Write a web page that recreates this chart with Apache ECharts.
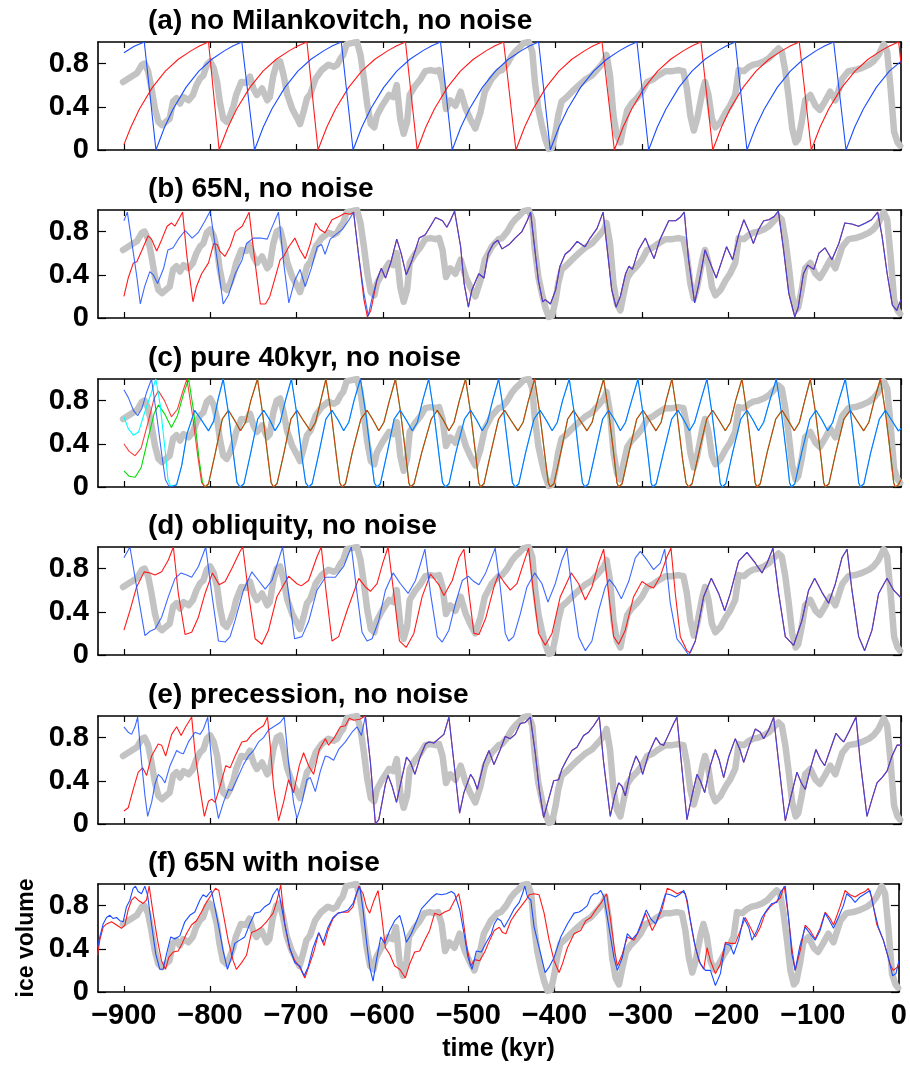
<!DOCTYPE html>
<html><head><meta charset="utf-8">
<script src="https://cdn.jsdelivr.net/npm/echarts@6/dist/echarts.min.js"></script>
<style>html,body{margin:0;padding:0;background:#fff}#c{width:910px;height:1068px}</style>
</head><body><div id="c"></div>
<script>
const xTicks = [-900,-800,-700,-600,-500,-400,-300,-200,-100,0];
const yTicks = [0,0.4,0.8];
const titles = ['(a) no Milankovitch, no noise','(b) 65N, no noise','(c) pure 40kyr, no noise','(d) obliquity, no noise','(e) precession, no noise','(f) 65N with noise'];

const grey = [[-901,0.63],[-897,0.65],[-891,0.68],[-885,0.71],[-879,0.79],[-876,0.8],[-872,0.73],[-868,0.57],[-864,0.38],[-860,0.26],[-856,0.23],[-850,0.27],[-847,0.29],[-843,0.45],[-839,0.48],[-835,0.43],[-831,0.49],[-825,0.46],[-820,0.51],[-816,0.6],[-812,0.66],[-808,0.69],[-804,0.79],[-800,0.82],[-796,0.76],[-792,0.63],[-789,0.45],[-785,0.29],[-781,0.26],[-777,0.32],[-773,0.41],[-770,0.51],[-764,0.63],[-758,0.62],[-754,0.68],[-750,0.57],[-746,0.51],[-740,0.57],[-734,0.46],[-731,0.49],[-727,0.69],[-723,0.8],[-719,0.82],[-715,0.69],[-711,0.52],[-705,0.38],[-699,0.29],[-696,0.24],[-692,0.35],[-688,0.48],[-684,0.52],[-678,0.66],[-671,0.74],[-663,0.79],[-657,0.77],[-653,0.79],[-649,0.85],[-646,0.88],[-642,0.98],[-636,0.99],[-630,1],[-626,0.88],[-622,0.66],[-618,0.41],[-614,0.24],[-610,0.21],[-607,0.32],[-601,0.41],[-593,0.51],[-588,0.49],[-584,0.6],[-580,0.29],[-576,0.15],[-572,0.26],[-569,0.51],[-563,0.59],[-557,0.65],[-551,0.73],[-545,0.74],[-539,0.73],[-535,0.74],[-531,0.63],[-527,0.38],[-522,0.46],[-516,0.41],[-510,0.54],[-504,0.38],[-499,0.29],[-493,0.2],[-487,0.35],[-482,0.54],[-474,0.66],[-466,0.73],[-462,0.74],[-456,0.8],[-451,0.87],[-447,0.91],[-443,0.94],[-437,0.99],[-431,1],[-427,0.91],[-424,0.63],[-420,0.38],[-416,0.23],[-412,0.1],[-408,0.01],[-404,0.02],[-400,0.17],[-397,0.32],[-393,0.45],[-387,0.49],[-381,0.54],[-373,0.6],[-366,0.65],[-358,0.69],[-350,0.76],[-344,0.82],[-341,0.88],[-337,0.69],[-333,0.32],[-329,0.13],[-325,0.07],[-321,0.23],[-317,0.37],[-312,0.43],[-306,0.48],[-300,0.54],[-294,0.63],[-288,0.65],[-281,0.69],[-273,0.73],[-265,0.73],[-258,0.74],[-252,0.73],[-248,0.57],[-244,0.32],[-240,0.18],[-236,0.29],[-230,0.54],[-227,0.63],[-223,0.51],[-219,0.29],[-215,0.21],[-209,0.26],[-203,0.35],[-198,0.41],[-192,0.51],[-188,0.74],[-182,0.73],[-176,0.77],[-171,0.79],[-165,0.8],[-159,0.82],[-153,0.85],[-147,0.9],[-142,0.94],[-138,0.91],[-134,0.73],[-130,0.48],[-126,0.2],[-122,0.07],[-119,0.1],[-115,0.26],[-111,0.46],[-105,0.51],[-99,0.41],[-94,0.37],[-88,0.45],[-82,0.54],[-76,0.46],[-68,0.66],[-61,0.73],[-53,0.74],[-45,0.76],[-37,0.79],[-32,0.82],[-26,0.88],[-20,0.98],[-16,0.91],[-12,0.57],[-8,0.17],[-4,0.07],[-1,0.04]];

// (a)
const aRed = [[-900,0.05],[-892,0.21],[-882,0.38],[-867,0.58],[-852,0.73],[-837,0.84],[-822,0.92],[-812,0.965],[-802,1],
[-789.7,0],[-779.5,0.21],[-769.4,0.38],[-754.1,0.58],[-738.9,0.73],[-723.6,0.84],[-708.3,0.92],[-698.2,0.965],[-688,1],
[-675.2,0],[-665.1,0.21],[-654.9,0.38],[-639.7,0.58],[-624.6,0.73],[-609.4,0.84],[-594.2,0.92],[-584,0.965],[-573.9,1],
[-560.4,0],[-550.4,0.21],[-540.4,0.38],[-525.3,0.58],[-510.3,0.73],[-495.3,0.84],[-480.2,0.92],[-470.2,0.965],[-460.2,1],
[-446,0],[-436,0.21],[-426.1,0.38],[-411.1,0.58],[-396.2,0.73],[-381.2,0.84],[-366.2,0.92],[-356.3,0.965],[-346.3,1],
[-332,0],[-322,0.21],[-311.9,0.38],[-296.9,0.58],[-281.9,0.73],[-266.8,0.84],[-251.8,0.92],[-241.7,0.965],[-231.7,1],
[-218,0],[-208,0.21],[-198,0.38],[-182.9,0.58],[-167.9,0.73],[-152.9,0.84],[-137.8,0.92],[-127.8,0.965],[-117.8,1],
[-103.9,0],[-93.8,0.21],[-83.7,0.38],[-68.5,0.58],[-53.3,0.73],[-38.1,0.84],[-22.9,0.92],[-12.8,0.965],[-2.7,1],[0,0.8]];
const aBlue = [[-900,0.9],[-888,0.96],[-876.4,1],
[-862.9,0],[-852.9,0.21],[-843,0.38],[-828.1,0.58],[-813.2,0.73],[-798.2,0.84],[-783.3,0.92],[-773.3,0.965],[-763.4,1],
[-748.7,0],[-738.7,0.21],[-728.6,0.38],[-713.5,0.58],[-698.5,0.73],[-683.4,0.84],[-668.3,0.92],[-658.3,0.965],[-648.2,1],
[-634.6,0],[-624.5,0.21],[-614.3,0.38],[-599.1,0.58],[-584,0.73],[-568.8,0.84],[-553.6,0.92],[-543.4,0.965],[-533.3,1],
[-519.8,0],[-509.8,0.21],[-499.8,0.38],[-484.8,0.58],[-469.8,0.73],[-454.7,0.84],[-439.7,0.92],[-429.7,0.965],[-419.7,1],
[-406.2,0],[-396.2,0.21],[-386.1,0.38],[-371.1,0.58],[-356,0.73],[-340.9,0.84],[-325.9,0.92],[-315.8,0.965],[-305.8,1],
[-292.3,0],[-282.3,0.21],[-272.2,0.38],[-257.2,0.58],[-242.1,0.73],[-227,0.84],[-212,0.92],[-201.9,0.965],[-191.9,1],
[-178.4,0],[-168.4,0.21],[-158.3,0.38],[-143.3,0.58],[-128.2,0.73],[-113.1,0.84],[-98.1,0.92],[-88,0.965],[-78,1],
[-63.7,0],[-53.7,0.21],[-43.6,0.38],[-28.6,0.58],[-13.5,0.73],[0,0.82]];

// (b)
const bRedEarly = [[-900,0.2],[-895,0.37],[-889,0.51],[-885,0.52],[-879,0.63],[-872,0.76],[-868,0.73],[-862,0.62],[-856,0.73],[-850,0.85],[-845,0.88],[-841,0.85],[-832,0.98],[-827,0.57],[-820,0.15],[-816,0.29],[-810,0.41],[-802,0.51],[-796,0.69],[-792,0.68],[-789,0.62],[-783,0.57],[-777,0.66],[-771,0.8],[-763,0.85],[-755,0.98],[-749,0.57],[-742,0.13],[-736,0.13],[-731,0.2],[-725,0.37],[-719,0.54],[-715,0.57],[-709,0.66],[-702,0.74],[-696,0.63],[-690,0.55],[-684,0.69],[-678,0.88],[-673,0.82],[-667,0.79],[-659,0.91],[-651,0.94],[-644,0.97],[-638,0.96],[-634,0.98],[-628,0.57],[-622,0.17],[-618,0.01],[-614,0.07]];
const bBlueEarly = [[-900,0.9],[-896,0.98],[-889,0.6],[-885,0.38],[-881,0.13],[-876,0.29],[-870,0.43],[-866,0.4],[-861,0.32],[-854,0.46],[-849,0.63],[-843,0.65],[-837,0.73],[-829,0.81],[-821,0.74],[-814,0.79],[-806,0.9],[-800,0.99],[-792,0.54],[-785,0.13],[-779,0.21],[-771,0.41],[-763,0.54],[-758,0.69],[-750,0.74],[-742,0.74],[-734,0.73],[-729,0.83],[-721,0.98],[-715,0.51],[-709,0.14],[-702,0.35],[-696,0.45],[-690,0.29],[-683,0.46],[-676,0.66],[-671,0.68],[-667,0.59],[-661,0.73],[-655,0.77],[-647,0.82],[-640,0.9],[-634,0.98],[-628,0.57],[-622,0.23],[-617,0.02],[-613,0.17]];
const bCommon = [[-607,0.35],[-602,0.46],[-597,0.37],[-591,0.51],[-584,0.73],[-579,0.6],[-573,0.4],[-566,0.54],[-558,0.74],[-551,0.77],[-545,0.85],[-539,0.93],[-531,0.9],[-526,0.84],[-522,0.9],[-517,0.99],[-510,0.66],[-506,0.32],[-501,0.1],[-497,0.26],[-489,0.41],[-483,0.37],[-478,0.6],[-472,0.69],[-467,0.72],[-462,0.64],[-454,0.68],[-447,0.74],[-439,0.8],[-433,0.9],[-429,0.98],[-424,0.63],[-420,0.35],[-415,0.15],[-412,0.17],[-406,0.13],[-400,0.26],[-395,0.48],[-389,0.59],[-383,0.63],[-375,0.71],[-370,0.68],[-366,0.66],[-360,0.74],[-352,0.83],[-345,0.98],[-341,0.69],[-335,0.26],[-330,0.1],[-325,0.2],[-319,0.41],[-315,0.48],[-311,0.45],[-304,0.63],[-296,0.74],[-292,0.66],[-286,0.55],[-279,0.73],[-269,0.9],[-261,0.9],[-256,0.93],[-251,0.98],[-246,0.54],[-239,0.14],[-234,0.32],[-227,0.63],[-221,0.51],[-214,0.37],[-207,0.54],[-202,0.66],[-195,0.54],[-188,0.77],[-182,0.91],[-176,0.8],[-171,0.69],[-165,0.82],[-159,0.9],[-153,0.91],[-147,0.94],[-142,0.99],[-136,0.63],[-130,0.23],[-123,0.01],[-119,0.1],[-113,0.41],[-108,0.49],[-101,0.45],[-95,0.6],[-88,0.65],[-80,0.54],[-72,0.69],[-65,0.88],[-57,0.87],[-49,0.85],[-41,0.88],[-34,0.91],[-27,0.98],[-22,0.76],[-16,0.41],[-10,0.12],[-5,0.07],[0,0.17]];

// (c)
const cBlueStart = [[-900,0.9],[-895,0.83],[-889,0.71],[-884,0.66],[-879,0.73],[-874,0.87],[-868,1],[-862,0.66],[-856,0.29],[-852,0.07],[-848,0.01],[-845,0]];
const cCyanStart = [[-900,0.65],[-895,0.54],[-889,0.48],[-883,0.51],[-876,0.69],[-868,0.88],[-863,1],[-858,0.76],[-852,0.32],[-849,0.07],[-846,0.01],[-845,0]];
const cBlueCommon = [[-839,0.02],[-833,0.2],[-827,0.49],[-818,0.71],[-811,0.63],[-802,0.52],[-796,0.61],[-791,0.81],[-785,1],
[-779,0.69],[-772.5,0.26],[-769,0.04],[-765.4,0],[-761,0.03],[-753,0.32],[-745,0.63],[-738,0.71],[-731,0.62],[-725,0.52],[-719,0.6],[-713,0.8],[-706,1],
[-700,0.69],[-693.5,0.26],[-689.5,0.04],[-686,0],[-682,0.03],[-674,0.32],[-666,0.63],[-659,0.71],[-652,0.62],[-645.5,0.52],[-639.5,0.6],[-633.5,0.8],[-626,1],
[-620,0.69],[-613.5,0.26],[-610,0.04],[-606.8,0],[-603,0.03],[-595,0.32],[-587,0.63],[-580,0.71],[-573,0.62],[-566,0.52],[-560,0.6],[-554,0.8],[-547,1],
[-541,0.69],[-534.5,0.26],[-531,0.04],[-527.5,0],[-523.5,0.03],[-515.5,0.32],[-505.5,0.63],[-498.5,0.71],[-491.5,0.62],[-485,0.52],[-479,0.6],[-473,0.8],[-466,1],
[-460,0.69],[-453.5,0.26],[-450,0.04],[-446.7,0],[-442.7,0.03],[-434.7,0.32],[-425,0.63],[-418,0.71],[-411,0.62],[-404,0.52],[-398,0.6],[-392,0.8],[-384.2,1],
[-378.5,0.69],[-372.5,0.26],[-369,0.04],[-366,0],[-362,0.03],[-354,0.32],[-345.5,0.63],[-338.6,0.71],[-331.5,0.62],[-325,0.52],[-319,0.6],[-312,0.8],[-304.6,1],
[-299,0.69],[-292.5,0.26],[-289.5,0.04],[-287.5,0],[-283.5,0.03],[-275,0.32],[-265.5,0.63],[-258.3,0.71],[-251.5,0.62],[-245,0.52],[-239,0.6],[-232,0.8],[-224.7,1],
[-219,0.69],[-212.5,0.26],[-209.5,0.04],[-207.3,0],[-203,0.03],[-195,0.32],[-185.5,0.63],[-178.4,0.71],[-171.5,0.62],[-165,0.52],[-159,0.6],[-152,0.8],[-144.4,1],
[-138.5,0.69],[-132,0.26],[-129,0.04],[-127,0],[-123,0.03],[-115,0.32],[-105.5,0.63],[-98.5,0.71],[-91.5,0.62],[-85,0.52],[-79,0.6],[-72,0.8],[-64.5,1],
[-58.5,0.69],[-52,0.26],[-49,0.04],[-47,0],[-43,0.03],[-35,0.32],[-25,0.63],[-18,0.71],[-11,0.62],[-3,0.52],[0,0.54]];
const cRedStart = [[-900,0.4],[-894,0.33],[-887,0.29],[-880,0.36],[-872,0.6],[-865,0.82],[-860,0.89],[-853,0.8],[-845,0.65],[-838,0.72],[-832,0.88],[-827,1],[-821,0.69],[-814,0.26],[-810,0.04],[-806,0]];
const cGreenStart = [[-900,0.15],[-894,0.1],[-887,0.09],[-880,0.18],[-872,0.45],[-865,0.68],[-860,0.76],[-853,0.68],[-845,0.55],[-838,0.66],[-831,0.86],[-825,1],[-819,0.69],[-813,0.26],[-809,0.04],[-806,0]];
const cRedCommon = [[-802,0.03],[-794,0.32],[-786,0.63],[-779,0.71],[-772,0.62],[-765,0.52],[-759,0.6],[-753,0.8],[-745.3,1],
[-739.5,0.69],[-733,0.26],[-729.5,0.04],[-726.7,0],[-722.7,0.03],[-714.5,0.32],[-706.5,0.63],[-699.6,0.71],[-692.5,0.62],[-684,0.52],[-678,0.6],[-672,0.8],[-666,1],
[-660,0.69],[-653.5,0.26],[-650,0.04],[-647.4,0],[-643.4,0.03],[-635.5,0.32],[-625.5,0.63],[-618.4,0.71],[-611.5,0.62],[-604.8,0.52],[-598.8,0.6],[-592.5,0.8],[-585.5,1],
[-579.5,0.69],[-573,0.26],[-570,0.04],[-568.1,0],[-564,0.03],[-555,0.32],[-544,0.63],[-537.1,0.71],[-530,0.62],[-523.6,0.52],[-517.6,0.6],[-511.5,0.8],[-504.3,1],
[-498.5,0.69],[-492,0.26],[-489,0.04],[-486.9,0],[-483,0.03],[-475,0.32],[-466,0.63],[-459,0.71],[-452,0.62],[-443.6,0.52],[-437.6,0.6],[-431.5,0.8],[-424.3,1],
[-418.5,0.69],[-412,0.26],[-408.5,0.04],[-406.2,0],[-402,0.03],[-394,0.32],[-386,0.63],[-379.2,0.71],[-372,0.62],[-363.7,0.52],[-357.7,0.6],[-351.5,0.8],[-344.4,1],
[-338.5,0.69],[-332,0.26],[-329,0.04],[-327,0],[-323,0.03],[-315,0.32],[-306,0.63],[-298.8,0.71],[-291.5,0.62],[-283.8,0.52],[-277.8,0.6],[-272,0.8],[-265.3,1],
[-259.5,0.69],[-253,0.26],[-249,0.04],[-246,0],[-242,0.03],[-234,0.32],[-225,0.63],[-218.1,0.71],[-211,0.62],[-203.5,0.52],[-197.5,0.6],[-191.5,0.8],[-184.2,1],
[-178.5,0.69],[-172,0.26],[-169,0.04],[-166.8,0],[-163,0.03],[-155,0.32],[-145,0.63],[-137.8,0.71],[-131,0.62],[-123.6,0.52],[-117.6,0.6],[-111.5,0.8],[-105,1],
[-99,0.69],[-92.5,0.26],[-89.5,0.04],[-87.6,0],[-83.5,0.03],[-75.5,0.32],[-66,0.63],[-58.7,0.71],[-51.5,0.62],[-43.2,0.52],[-37.2,0.6],[-31,0.8],[-23.9,1],
[-18,0.69],[-11.5,0.26],[-8.5,0.04],[-6.6,0],[-3,0.02],[0,0.07]];

// (d)
const dBlueEarly = [[-900,0.9],[-893,1],[-885.3,0.63],[-875.6,0.18],[-869.8,0.22],[-864,0.24],[-856.3,0.35],[-848.5,0.54],[-840.8,0.71],[-833.8,0.76],[-827.3,0.74],[-821.5,0.72],[-813.7,0.82],[-805.2,1],[-798.3,0.57],[-790.5,0.13],[-782.8,0.12],[-777,0.17],[-771.2,0.32],[-761.5,0.6],[-751.8,0.77],[-744.1,0.69],[-736.4,0.61],[-728.6,0.69],[-720.9,0.88],[-716.2,1],[-709.3,0.57],[-702.3,0.15],[-693.8,0.17],[-686.1,0.31],[-676.4,0.6],[-666.7,0.72],[-655.1,0.72],[-645.5,0.82],[-636.6,1],[-630,0.57],[-624.2,0.21],[-618.4,0.13],[-612.6,0.15],[-604.8,0.32],[-597.1,0.6],[-588.2,0.76],[-579.7,0.66],[-570.8,0.57],[-562.3,0.69],[-551.4,0.98],[-544.9,0.57],[-537.1,0.17],[-531.3,0.12],[-523.6,0.23],[-515.9,0.48],[-508.1,0.69],[-501.2,0.73],[-494.6,0.68],[-488.8,0.65],[-481,0.76],[-470,0.99],[-464.1,0.63],[-458.3,0.2],[-454.4,0.13],[-448.6,0.17],[-440.9,0.38],[-433.2,0.63],[-424.3,0.76],[-415.8,0.66],[-408.9,0.49],[-400.4,0.66],[-392.7,0.88],[-386.9,0.99],[-381.1,0.6],[-373.4,0.17],[-365.6,0.04],[-357.9,0.13],[-350.2,0.41],[-342.5,0.63],[-337.8,0.7],[-330.9,0.63],[-323.9,0.52],[-315.4,0.68],[-307.7,0.9],[-301.9,0.96],[-294.2,0.88],[-286.5,0.79],[-278.8,0.85],[-273.7,0.98],[-267.2,0.48],[-259.5,0.15],[-253.7,0.09],[-245.9,0]];
const dRedEarly = [[-900,0.23],[-893,0.41],[-885.3,0.63],[-876.4,0.77],[-869.8,0.76],[-864,0.74],[-856.3,0.77],[-848.5,0.88],[-842.7,1],[-837,0.57],[-829.2,0.19],[-821.5,0.21],[-813.7,0.35],[-806,0.57],[-797.5,0.76],[-789.7,0.65],[-782.8,0.68],[-775,0.8],[-765.4,0.96],[-762.3,1],[-755.7,0.57],[-748,0.15],[-740.2,0.1],[-732.5,0.23],[-722.8,0.54],[-709.3,0.73],[-699.6,0.66],[-694.6,0.64],[-686.1,0.69],[-676.4,0.91],[-671.4,1],[-665.6,0.57],[-659,0.13],[-651.3,0.17],[-641.6,0.41],[-628,0.71],[-620.3,0.63],[-614.5,0.59],[-606.8,0.66],[-600.2,0.85],[-594,1],[-587.4,0.57],[-580.9,0.13],[-573.1,0.07],[-564.2,0.2],[-554.6,0.54],[-544.9,0.75],[-535.2,0.65],[-529.4,0.55],[-519.7,0.69],[-512,0.9],[-506.2,0.98],[-500.4,0.57],[-494.6,0.2],[-488.8,0.19],[-481,0.34],[-471.4,0.63],[-466,0.75],[-460.2,0.68],[-452.5,0.6],[-444.8,0.66],[-437.1,0.85],[-431.3,0.99],[-425.5,0.57],[-419.7,0.2],[-412,0.09],[-404.2,0.2],[-394.6,0.54],[-381.9,0.76],[-373.4,0.66],[-365.6,0.51],[-357.9,0.63],[-350.2,0.85],[-344.4,0.98],[-338.6,0.57],[-332.8,0.17],[-327,0.1],[-319.3,0.23],[-309.7,0.54],[-300,0.68],[-292.3,0.64],[-286.5,0.62],[-278.8,0.73],[-271,0.91],[-266.4,0.99],[-261.4,0.57],[-255.6,0.17],[-247.9,0.04],[-244,0.02]];
const dCommon = [[-238.2,0.13],[-228.6,0.54],[-219.7,0.71],[-211.2,0.57],[-204.2,0.41],[-197.7,0.57],[-188,0.87],[-178.4,0.95],[-168.7,0.85],[-161,0.76],[-155.2,0.85],[-148.3,0.99],[-141.7,0.57],[-134,0.17],[-124.3,0.09],[-114.7,0.32],[-107,0.6],[-100,0.71],[-91.5,0.58],[-83.8,0.48],[-76,0.66],[-68.4,0.9],[-62.5,0.98],[-56.8,0.6],[-49,0.17],[-42.1,0.04],[-33.6,0.23],[-25.9,0.57],[-16.2,0.71],[-8.5,0.6],[0,0.53]];

// (e)
const eRedEarly = [[-900,0.12],[-895,0.15],[-889.2,0.32],[-883.4,0.48],[-878.3,0.52],[-873.7,0.45],[-867.9,0.63],[-860.2,0.74],[-856.3,0.73],[-851.6,0.63],[-844.7,0.83],[-838.9,0.9],[-833.8,0.82],[-828.4,0.9],[-821.5,0.99],[-817.6,0.66],[-811.8,0.32],[-806.8,0.07],[-802.1,0.21],[-798.3,0.23],[-794.4,0.2],[-788.6,0.35],[-782,0.54],[-777,0.52],[-771.2,0.63],[-763.4,0.76],[-757.6,0.77],[-751.8,0.83],[-744.1,0.88],[-738.3,0.91],[-733.7,0.99],[-730.6,0.73],[-726.7,0.35],[-720.9,0.03],[-715.1,0.2],[-709.3,0.41],[-703.5,0.29],[-696.9,0.54],[-691.9,0.66],[-686.1,0.54],[-680.3,0.46],[-673.7,0.69],[-666.7,0.79],[-662.9,0.73],[-657.1,0.79],[-649.3,0.9],[-643.5,0.91],[-638.9,0.98],[-633.8,0.96],[-627,0.97],[-620.3,1]];
const eBlueEarly = [[-900,0.9],[-895,0.85],[-891.1,0.83],[-887.2,0.9],[-884.1,0.99],[-879.5,0.57],[-875.6,0.26],[-872.5,0.07],[-867.9,0.2],[-864,0.37],[-860.2,0.46],[-856.3,0.43],[-852.4,0.38],[-846.6,0.54],[-838.9,0.68],[-835,0.66],[-831.1,0.65],[-825.3,0.76],[-817.6,0.85],[-811.8,0.83],[-807.9,0.88],[-802.9,0.99],[-798.3,0.57],[-794.4,0.23],[-790.5,0.05],[-784.7,0.2],[-778.9,0.32],[-775,0.31],[-769.3,0.41],[-761.5,0.55],[-755.7,0.63],[-749.9,0.68],[-744.1,0.76],[-738.3,0.8],[-732.5,0.87],[-724.8,0.91],[-719,0.94],[-714.3,0.99],[-709.3,0.57],[-703.5,0.2],[-699.6,0.05],[-693.8,0.2],[-688,0.41],[-684.1,0.43],[-678.3,0.3],[-672.5,0.49],[-666.7,0.63],[-662.9,0.62],[-657.1,0.59],[-651.3,0.69],[-643.5,0.76],[-635.8,0.85],[-630,0.9],[-624.9,0.82],[-620.3,1]];
const eCommon = [[-614.5,0.57],[-608.7,0],[-604.8,0.04],[-601,0.2],[-597.1,0.37],[-594,0.45],[-589.4,0.35],[-584.3,0.2],[-578.5,0.41],[-572.7,0.62],[-568.1,0.57],[-563,0.46],[-556.5,0.63],[-550.7,0.74],[-546.8,0.76],[-541,0.75],[-535.2,0.79],[-529.4,0.83],[-523.6,0.99],[-517.8,0.57],[-511.2,0.1],[-506.2,0.29],[-498.5,0.46],[-494.6,0.41],[-490.7,0.32],[-483,0.57],[-477.2,0.68],[-471.4,0.55],[-464.1,0.69],[-458.3,0.81],[-452.5,0.79],[-446.7,0.83],[-440.9,0.93],[-435.1,0.94],[-429.3,0.99],[-423.6,0.66],[-418.9,0.32],[-413.9,0.06],[-408.1,0.23],[-402.3,0.4],[-396.5,0.41],[-392.7,0.51],[-386.9,0.6],[-381.1,0.68],[-375.3,0.71],[-367.6,0.82],[-361.8,0.85],[-356,0.91],[-349.4,0.99],[-344.4,0.57],[-336.7,0.07],[-331.7,0.26],[-327,0.38],[-323.2,0.35],[-319.3,0.26],[-313.5,0.48],[-306.9,0.63],[-303.1,0.57],[-299.2,0.46],[-292.3,0.65],[-283.8,0.8],[-278.8,0.74],[-274.9,0.73],[-269.1,0.83],[-263.3,0.93],[-259.5,0.99],[-254.4,0.57],[-247.9,0.04],[-242.1,0.26],[-236.3,0.46],[-232.4,0.4],[-227.4,0.29],[-220.8,0.54],[-215,0.69],[-210.4,0.59],[-205.4,0.43],[-199.6,0.62],[-191.9,0.79],[-186.1,0.68],[-182.2,0.57],[-176.4,0.71],[-168.7,0.88],[-162.9,0.85],[-159.1,0.79],[-153.3,0.87],[-147.5,0.99],[-141.7,0.57],[-134,0.03],[-128.2,0.23],[-120.5,0.48],[-115.4,0.38],[-110.8,0.32],[-105,0.51],[-98.5,0.69],[-93.4,0.6],[-88.4,0.54],[-81.9,0.69],[-75.3,0.84],[-70.3,0.79],[-66.4,0.76],[-60.6,0.85],[-52.1,0.99],[-47.1,0.57],[-39.4,0.07],[-33.6,0.23],[-27.8,0.38],[-22,0.43],[-16.2,0.49],[-10.4,0.63],[-4.6,0.73],[0,0.73]];

// (f)
const fBlue = [[-930.6,0.41],[-927.9,0.51],[-924,0.63],[-920.1,0.69],[-916.2,0.71],[-912.4,0.68],[-908.5,0.69],[-904.6,0.66],[-900.8,0.65],[-896.9,0.79],[-893,0.85],[-889.2,0.96],[-886.5,0.98],[-883.4,0.93],[-879.5,0.91],[-875.6,0.98],[-872.5,0.9],[-867.9,0.63],[-862.9,0.35],[-858.2,0.21],[-854.4,0.21],[-850.5,0.35],[-845.5,0.51],[-840.8,0.49],[-835,0.52],[-829.2,0.65],[-823.4,0.71],[-817.6,0.74],[-811.8,0.85],[-808,0.9],[-804.1,0.88],[-798.3,0.94],[-794.4,0.79],[-789.7,0.6],[-784.7,0.38],[-779.7,0.21],[-775,0.32],[-771.2,0.45],[-765.4,0.48],[-759.6,0.51],[-753.8,0.63],[-748,0.73],[-742.2,0.74],[-736.4,0.79],[-730.6,0.82],[-726.7,0.9],[-721.7,0.96],[-719,0.88],[-713.2,0.63],[-707.4,0.41],[-701.5,0.27],[-695.7,0.24],[-690.7,0.15],[-686.1,0.23],[-680.3,0.41],[-673.7,0.55],[-668.7,0.46],[-662.9,0.6],[-657.1,0.69],[-651.3,0.73],[-645.5,0.74],[-639.6,0.76],[-633.8,0.82],[-630,0.91],[-626.1,0.98],[-622.2,0.76],[-618.4,0.48],[-614.5,0.23],[-610.6,0.1],[-606.8,0.29],[-601.7,0.51],[-597.1,0.45],[-591.3,0.57],[-585.5,0.66],[-579.7,0.71],[-575.8,0.6],[-571.9,0.46],[-566.2,0.54],[-560.4,0.65],[-554.5,0.77],[-548.7,0.82],[-543,0.87],[-537.1,0.91],[-531.3,0.9],[-525.5,0.91],[-519.7,0.93],[-515.9,0.91],[-510,0.76],[-504.3,0.51],[-500.4,0.32],[-495.7,0.21],[-490.7,0.38],[-484.9,0.37],[-479.1,0.46],[-473.3,0.54],[-469.9,0.63],[-466,0.68],[-462.2,0.66],[-458.3,0.6],[-452.5,0.68],[-446.7,0.77],[-440.9,0.83],[-437.1,0.91],[-434.4,0.98],[-431.3,0.88],[-427.4,0.85],[-423.6,0.6],[-417.8,0.41],[-410.8,0.18],[-406.2,0.23],[-400.4,0.32],[-392.7,0.51],[-385,0.63],[-377.2,0.73],[-371.4,0.74],[-367.6,0.76],[-361.8,0.8],[-357.9,0.88],[-354.1,0.91],[-350.2,0.91],[-346.3,0.94],[-342.5,0.88],[-336.7,0.6],[-330.9,0.32],[-327,0.2],[-321.2,0.32],[-315.4,0.54],[-309.7,0.49],[-303.9,0.54],[-298.1,0.66],[-293.4,0.76],[-288.4,0.68],[-282.6,0.63],[-276.8,0.76],[-271,0.91],[-265.3,0.9],[-259.5,0.88],[-253.7,0.91],[-249.8,0.94],[-245.9,0.85],[-242.1,0.66],[-236.3,0.41],[-230.5,0.26],[-224.7,0.2],[-218.9,0.2],[-213.1,0.06],[-207.3,0.17],[-201.5,0.45],[-195.8,0.43],[-191.9,0.35],[-186.1,0.48],[-180.3,0.69],[-174.5,0.6],[-170.7,0.48],[-164.9,0.57],[-159.1,0.69],[-153.3,0.76],[-147.5,0.82],[-141.7,0.83],[-137.1,0.93],[-132,0.98],[-128.2,0.69],[-124.3,0.35],[-120.5,0.2],[-115.4,0.41],[-108.9,0.6],[-103.1,0.54],[-97.3,0.48],[-91.5,0.57],[-85.7,0.73],[-79.9,0.65],[-76,0.59],[-70.3,0.69],[-64.5,0.8],[-60.6,0.91],[-54.8,0.87],[-50.9,0.83],[-45.2,0.88],[-39.4,0.91],[-33.6,0.94],[-29.7,0.79],[-23.9,0.6],[-18.1,0.48],[-12.4,0.32],[-7.3,0.15],[-3.5,0.17],[0,0.29]];
const fRed = [[-930.6,0.34],[-927.9,0.48],[-924,0.6],[-920.1,0.63],[-914.3,0.65],[-908.5,0.62],[-902.7,0.59],[-898.8,0.62],[-895,0.76],[-891.1,0.85],[-887.2,0.88],[-883.4,0.85],[-877.6,0.82],[-873.7,0.85],[-870.6,0.98],[-866,0.73],[-860.9,0.48],[-856.3,0.29],[-851.6,0.21],[-847.8,0.32],[-842.7,0.37],[-836.9,0.38],[-832.3,0.45],[-827.3,0.54],[-821.5,0.62],[-815.7,0.66],[-809.9,0.74],[-804.1,0.83],[-798.3,0.9],[-793.6,0.96],[-789.7,0.94],[-784.7,0.73],[-778.9,0.48],[-773.1,0.29],[-769.3,0.21],[-763.4,0.27],[-757.6,0.34],[-751.8,0.55],[-746,0.57],[-740.2,0.6],[-734.4,0.65],[-730.6,0.69],[-726.7,0.73],[-722.8,0.83],[-717.8,0.99],[-713.2,0.63],[-707.4,0.4],[-701.5,0.29],[-695.7,0.23],[-689.9,0.13],[-684.1,0.26],[-679.1,0.38],[-673.7,0.55],[-667.5,0.43],[-662.9,0.57],[-657.1,0.68],[-651.3,0.73],[-645.5,0.74],[-639.6,0.74],[-633.8,0.79],[-627.3,0.98],[-622.2,0.91],[-618.4,0.79],[-614.5,0.73],[-609.5,0.85],[-604.8,0.94],[-601,0.73],[-596.3,0.41],[-591.3,0.35],[-585.5,0.24],[-579.7,0.21],[-573.1,0.13],[-568.1,0.26],[-562.3,0.37],[-556.5,0.38],[-550.7,0.48],[-544.9,0.57],[-539.1,0.73],[-533.3,0.71],[-527.5,0.74],[-521.7,0.76],[-515.9,0.85],[-511.2,0.91],[-508.1,0.79],[-502.3,0.45],[-497.3,0.24],[-492.7,0.3],[-486.8,0.29],[-481,0.37],[-475.2,0.48],[-469.9,0.57],[-464.1,0.6],[-460.2,0.55],[-456.4,0.54],[-450.6,0.66],[-444.8,0.73],[-439,0.79],[-433.2,0.85],[-429.3,0.9],[-423.6,0.91],[-417.8,0.9],[-412,0.73],[-406.2,0.48],[-400.4,0.29],[-394.6,0.18],[-390.7,0.26],[-385,0.41],[-377.2,0.54],[-369.5,0.57],[-363.7,0.66],[-357.9,0.69],[-352.1,0.76],[-346.3,0.82],[-339.4,0.91],[-334.7,0.66],[-330,0.38],[-327,0.24],[-321.2,0.35],[-315.4,0.51],[-307.7,0.48],[-300,0.6],[-294.2,0.73],[-286.5,0.57],[-280.7,0.66],[-274.9,0.77],[-269.1,0.96],[-263.3,0.94],[-257.5,0.91],[-251.7,0.93],[-247.9,0.91],[-242.9,0.69],[-238.2,0.48],[-232.4,0.29],[-226.7,0.21],[-222.8,0.41],[-218.9,0.29],[-213.1,0.17],[-207.3,0.26],[-201.5,0.46],[-195.8,0.45],[-190,0.45],[-184.2,0.57],[-178.4,0.69],[-172.6,0.6],[-166.8,0.51],[-161,0.6],[-155.2,0.73],[-149.4,0.79],[-143.6,0.83],[-137.8,0.87],[-133.2,0.98],[-128.2,0.69],[-124.3,0.41],[-120.5,0.2],[-114.7,0.38],[-108.9,0.62],[-103.1,0.57],[-97.3,0.49],[-91.5,0.59],[-85.7,0.74],[-79.9,0.68],[-76,0.62],[-68.4,0.79],[-62.5,0.94],[-56.8,0.9],[-50.9,0.88],[-45.2,0.91],[-39.4,0.93],[-35.5,0.96],[-31.7,0.88],[-25.9,0.63],[-18.1,0.48],[-10.4,0.26],[-6.6,0.2],[-1.9,0.23],[0,0.26]];

const RED = '#ff1a1a', BLUE = '#1a4dff', CYAN = '#00ffff', GREEN = '#00dd00', GREY = '#c3c3c3';
const panels = [
  [{d: aRed, c: RED}, {d: aBlue, c: BLUE}],
  [{d: bRedEarly.concat(bCommon), c: RED}, {d: bBlueEarly.concat(bCommon), c: BLUE, o: 0.85}],
  [{d: cGreenStart.concat(cRedCommon), c: GREEN}, {d: cRedStart.concat(cRedCommon), c: RED, o: 0.84},
   {d: cCyanStart.concat(cBlueCommon), c: CYAN}, {d: cBlueStart.concat(cBlueCommon), c: BLUE, o: 0.82}],
  [{d: dRedEarly.concat(dCommon), c: RED}, {d: dBlueEarly.concat(dCommon), c: BLUE, o: 0.85}],
  [{d: eRedEarly.concat(eCommon), c: RED}, {d: eBlueEarly.concat(eCommon), c: BLUE, o: 0.85}],
  [{d: fRed, c: RED}, {d: fBlue, c: BLUE}]
];

const FONT = 'Liberation Sans';
const tops = [42, 210, 379, 547, 716, 884];
const H = 108, LEFT = 98, W = 803;
const grid = [], xAxis = [], yAxis = [], series = [], title = [];
const axLine = {show: true, onZero: false, lineStyle: {color: '#000', width: 1.6}};
const fmtX = v => v < 0 ? '\u2212' + (-v) : String(v);
tops.forEach((top, i) => {
  grid.push({left: LEFT, top: top, width: W, height: H, containLabel: false});
  title.push({text: titles[i], left: 148, top: top - 35, padding: 0,
    textStyle: {fontFamily: FONT, fontWeight: 'bold', fontSize: 28, color: '#000'}});
  const last = i === 5;
  const xBase = {type: 'value', gridIndex: i, min: -930, max: 0, axisLine: axLine, splitLine: {show: false},
    axisTick: {show: true, inside: true, length: 6, customValues: xTicks, lineStyle: {color: '#000', width: 1.2}}};
  xAxis.push(Object.assign({}, xBase, {position: 'bottom',
    axisLabel: {show: last, customValues: xTicks, formatter: fmtX, fontFamily: FONT, fontWeight: 'bold', fontSize: 29, color: '#000', margin: 9},
    name: last ? 'time (kyr)' : '', nameLocation: 'middle', nameGap: 45,
    nameTextStyle: {fontFamily: FONT, fontWeight: 'bold', fontSize: 25, color: '#000'}}));
  xAxis.push(Object.assign({}, xBase, {position: 'top', axisLabel: {show: false}}));
  const yBase = {type: 'value', gridIndex: i, min: 0, max: 1, axisLine: axLine, splitLine: {show: false},
    axisTick: {show: true, inside: true, length: 8, customValues: yTicks, lineStyle: {color: '#000', width: 1.2}}};
  yAxis.push(Object.assign({}, yBase, {position: 'left',
    axisLabel: {show: true, customValues: yTicks, formatter: v => String(v), fontFamily: FONT, fontWeight: 'bold', fontSize: 29, color: '#000', margin: 9},
    name: last ? 'ice volume' : '', nameLocation: 'middle', nameGap: 60,
    nameTextStyle: {fontFamily: FONT, fontWeight: 'bold', fontSize: 23, color: '#000'}}));
  yAxis.push(Object.assign({}, yBase, {position: 'right', axisLabel: {show: false}}));
  series.push({type: 'line', xAxisIndex: 2 * i, yAxisIndex: 2 * i, data: grey, symbol: 'none', silent: true,
    lineStyle: {color: GREY, width: 6.5, join: 'round', cap: 'round'}, z: 1});
  panels[i].forEach((s, k) => {
    series.push({type: 'line', xAxisIndex: 2 * i, yAxisIndex: 2 * i, data: s.d, symbol: 'none', silent: true,
      lineStyle: {color: s.c, width: 1.1, opacity: s.o == null ? 1 : s.o}, z: 2 + k});
  });
});

const chart = echarts.init(document.getElementById('c'), null, {renderer: 'canvas'});
chart.setOption({animation: false, backgroundColor: '#fff', title, grid, xAxis, yAxis, series});
</script></body></html>
